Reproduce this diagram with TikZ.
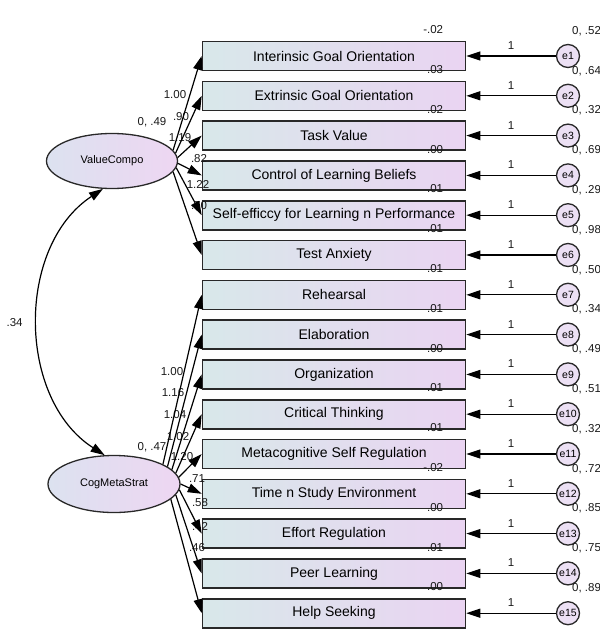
\documentclass[tikz,border=0pt]{standalone}
\usepackage{fontspec}
\setmainfont{Liberation Sans}
\usetikzlibrary{arrows.meta,calc,shapes.geometric}

\definecolor{boxleft}{RGB}{216,232,234}
\definecolor{boxright}{RGB}{234,212,242}
\definecolor{latleft}{RGB}{220,226,240}
\definecolor{latright}{RGB}{238,214,242}
\definecolor{errfill}{RGB}{236,224,244}
\definecolor{edge}{RGB}{40,40,40}

\tikzset{
  obsbox/.style={draw=edge, line width=1.6pt, left color=boxleft, right color=boxright,
    minimum width=263pt, minimum height=29pt, inner sep=0pt, font=\fontsize{14}{14}\selectfont},
  latent/.style={ellipse, draw=edge, line width=1.3pt, left color=latleft, right color=latright,
    inner sep=0pt, font=\fontsize{11}{11}\selectfont},
  errnode/.style={circle, draw=edge, line width=1.3pt, fill=errfill, minimum size=23pt,
    inner sep=0pt, font=\fontsize{10.5}{10.5}\selectfont},
  lbl/.style={inner sep=0pt, text=black!90, font=\fontsize{11.5}{11.5}\selectfont},
  regarrow/.style={-{Triangle[length=14pt,width=9pt]}, line width=1.2pt},
  covarrow/.style={{Triangle[length=14pt,width=9pt]}-{Triangle[length=14pt,width=9pt]}, line width=1.2pt}
}

\begin{document}
\begin{tikzpicture}[x=1pt,y=-1pt]
\useasboundingbox (0,0) rectangle (600,635);
\clip (0,0) rectangle (600,635);

% observed variables
\foreach \i/\name in {1/Interinsic Goal Orientation, 2/Extrinsic Goal Orientation, 3/Task Value,
  4/Control of Learning Beliefs, 5/Self-efficcy for Learning n Performance, 6/Test Anxiety,
  7/Rehearsal, 8/Elaboration, 9/Organization, 10/Critical Thinking,
  11/Metacognitive Self Regulation, 12/Time n Study Environment, 13/Effort Regulation,
  14/Peer Learning, 15/Help Seeking}
  \node[obsbox] (o\i) at (334, {56+39.8*(\i-1)}) {\name};

% intercepts
\foreach \i/\icpt in {1/-.02, 2/.03, 3/.02, 4/.00, 5/.01, 6/.01, 7/.01, 8/.01, 9/.00, 10/.01,
  11/.01, 12/-.02, 13/.00, 14/.01, 15/.00}
  \node[lbl, anchor=east] (ic\i) at ($(o\i.north east)+(-23,-11)$) {\icpt};

% latent variables
\node[latent, minimum width=131pt, minimum height=55pt] (lv1) at (112,161) {ValueCompo};
\node[latent, minimum width=132pt, minimum height=57pt] (lv2) at (114,484) {CogMetaStrat};
\node[lbl] (lv1var) at (152,122) {0, .49};
\node[lbl] (lv2var) at (152,447) {0, .47};

% error terms
\foreach \i/\var in {1/.52, 2/.64, 3/.32, 4/.69, 5/.29, 6/.98, 7/.50, 8/.34, 9/.49, 10/.51,
  11/.32, 12/.72, 13/.85, 14/.75, 15/.89} {
  \node[errnode] (e\i) at (568, {56+39.8*(\i-1)}) {e\i};
  \node[lbl, anchor=west] (ev\i) at ($(e\i)+(4,-25)$) {0, \var};
  \draw[regarrow] (e\i) -- node[lbl, above=6pt] (one\i) {1} (o\i);
}

% loadings
\foreach \txt/\x/\y [count=\k] in {1.00/175/95, .90/181/117, 1.19/180/138, .82/199/159,
  1.22/198/184, .70/199/206}
  \node[lbl] (wv\k) at (\x,\y) {\txt};
\foreach \txt/\x/\y [count=\k] in {1.00/172/372, 1.16/173/393, 1.04/175/415, 1.02/178/437,
  1.20/182/457, .71/197/479, .58/200/503, .42/200/526, .46/197/548}
  \node[lbl] (wc\k) at (\x,\y) {\txt};

\foreach \i/\ang in {1/10, 2/7, 3/3, 4/-2, 5/-6, 6/-10}
  \draw[regarrow] (lv1.\ang) -- (o\i.west);
\foreach \i/\ang in {7/22, 8/18, 9/14, 10/10, 11/6, 12/0, 13/-5, 14/-10, 15/-15}
  \draw[regarrow] (lv2.\ang) -- (o\i.west);

% covariance
\draw[covarrow] (lv1.-108) to[bend right=57] node[lbl, left=15pt] (cov) {.34} (lv2.108);
\end{tikzpicture}
\end{document}
